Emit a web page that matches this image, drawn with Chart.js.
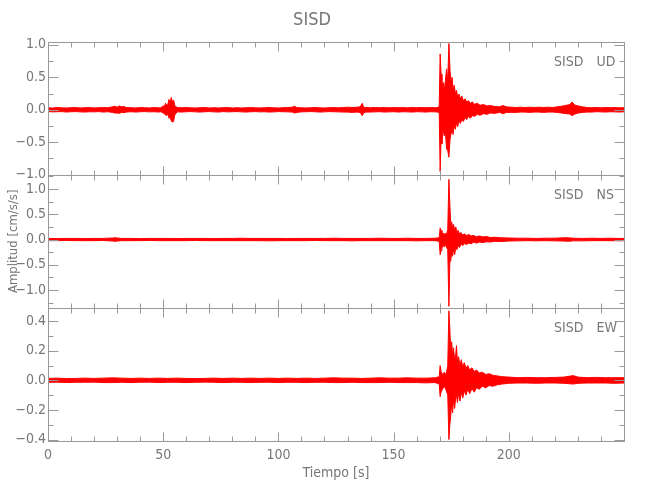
<!DOCTYPE html>
<html>
<head>
<meta charset="utf-8">
<script src="https://cdn.jsdelivr.net/npm/chart.js@4.4.1/dist/chart.umd.min.js"></script>
<style>
  html, body { margin: 0; padding: 0; background: #fff; }
  canvas { display: block; }
</style>
</head>
<body>
<canvas id="sismo" width="650" height="500"></canvas>
<script>
// Envelope of each trace: [tiempo (s), max, min]
const udTraza = [
  [0,0.032,-0.028],[2,0.028,-0.032],[4,0.035,-0.03],[6,0.03,-0.028],[8,0.028,-0.035],[10,0.032,-0.03],
  [12,0.035,-0.028],[14,0.028,-0.032],[16,0.032,-0.035],[18,0.035,-0.03],[20,0.028,-0.032],[22,0.032,-0.028],
  [24,0.035,-0.035],[26,0.032,-0.03],[28,0.045,-0.04],[29,0.055,-0.05],[30,0.04,-0.05],[31,0.06,-0.055],
  [32,0.045,-0.04],[33,0.05,-0.045],[34,0.035,-0.035],[36,0.032,-0.03],[38,0.028,-0.035],[40,0.035,-0.03],
  [42,0.032,-0.028],[44,0.028,-0.032],[46,0.035,-0.03],[48,0.03,-0.035],[49,0.032,-0.03],[50,0.06,-0.05],
  [50.5,0.05,-0.06],[51,0.1,-0.08],[51.5,0.07,-0.09],[52,0.08,-0.06],[52.5,0.16,-0.13],[53,0.1,-0.12],
  [53.5,0.19,-0.17],[54,0.12,-0.19],[54.5,0.15,-0.18],[55,0.07,-0.08],[55.5,0.05,-0.06],[56,0.035,-0.032],
  [58,0.032,-0.035],[60,0.035,-0.03],[62,0.03,-0.028],[64,0.028,-0.032],[66,0.032,-0.035],[68,0.035,-0.03],
  [70,0.028,-0.028],[72,0.032,-0.032],[74,0.028,-0.035],[76,0.032,-0.028],[78,0.035,-0.032],[80,0.028,-0.03],
  [82,0.032,-0.028],[84,0.028,-0.032],[86,0.032,-0.035],[88,0.035,-0.03],[90,0.03,-0.028],[92,0.028,-0.032],
  [94,0.032,-0.03],[96,0.035,-0.035],[98,0.03,-0.032],[100,0.028,-0.028],[102,0.032,-0.03],[104,0.035,-0.032],
  [106,0.04,-0.035],[107,0.055,-0.05],[108,0.035,-0.04],[110,0.03,-0.032],[112,0.028,-0.03],[114,0.032,-0.028],
  [116,0.035,-0.03],[118,0.03,-0.035],[120,0.028,-0.032],[122,0.032,-0.028],[124,0.035,-0.03],[126,0.03,-0.032],
  [128,0.035,-0.035],[130,0.04,-0.035],[132,0.035,-0.04],[134,0.04,-0.035],[135.5,0.045,-0.04],[136.4,0.1,-0.09],
  [137,0.04,-0.045],[138,0.035,-0.035],[140,0.032,-0.035],[142,0.035,-0.032],[144,0.032,-0.03],[146,0.035,-0.035],
  [148,0.03,-0.032],[150,0.035,-0.03],[152,0.032,-0.035],[154,0.035,-0.03],[156,0.03,-0.032],[158,0.035,-0.035],
  [160,0.032,-0.03],[162,0.035,-0.032],[164,0.032,-0.035],[166,0.035,-0.03],[168,0.032,-0.032],[169,0.035,-0.035],
  [169.8,0.05,-0.05],[170.2,0.86,-0.95],[170.6,0.55,-0.47],[171,0.35,-0.52],[171.5,0.42,-0.3],[172,0.3,-0.4],
  [172.5,0.46,-0.35],[173,0.63,-0.6],[173.5,0.45,-0.63],[174,1.02,-0.73],[174.5,0.6,-0.45],[175,0.42,-0.36],
  [175.4,0.5,-0.3],[175.8,0.3,-0.38],[176.3,0.38,-0.25],[176.8,0.25,-0.3],[177.3,0.3,-0.2],[177.8,0.2,-0.26],
  [178.4,0.24,-0.17],[179,0.17,-0.21],[179.6,0.21,-0.15],[180.3,0.14,-0.18],[181,0.17,-0.12],[181.7,0.12,-0.15],
  [182.5,0.14,-0.1],[183.3,0.1,-0.13],[184.2,0.12,-0.09],[185.2,0.085,-0.1],[186.3,0.1,-0.07],[187.5,0.07,-0.085],
  [189,0.08,-0.06],[190.5,0.06,-0.07],[192,0.065,-0.05],[194,0.05,-0.055],[196,0.045,-0.04],[197.5,0.065,-0.06],
  [199,0.045,-0.04],[201,0.04,-0.04],[203,0.035,-0.04],[205,0.04,-0.035],[207,0.035,-0.035],[209,0.04,-0.04],
  [211,0.035,-0.035],[213,0.04,-0.035],[215,0.035,-0.04],[217,0.04,-0.035],[219,0.035,-0.035],[221,0.045,-0.04],
  [223,0.055,-0.05],[225,0.07,-0.06],[226.5,0.08,-0.065],[227.5,0.12,-0.09],[228.5,0.075,-0.07],[230,0.06,-0.05],
  [232,0.045,-0.04],[234,0.035,-0.035],[236,0.032,-0.035],[238,0.035,-0.03],[240,0.03,-0.032],[242,0.035,-0.035],
  [244,0.032,-0.03],[246,0.035,-0.032],[248,0.03,-0.035],[250,0.032,-0.03]
];

const nsTraza = [
  [0,0.022,-0.022],[4,0.018,-0.022],[8,0.022,-0.018],[12,0.022,-0.022],[16,0.018,-0.022],[20,0.022,-0.022],
  [24,0.022,-0.018],[28,0.03,-0.03],[29,0.035,-0.035],[30,0.03,-0.03],[32,0.022,-0.022],[36,0.022,-0.022],
  [40,0.018,-0.022],[44,0.022,-0.018],[48,0.022,-0.022],[52,0.022,-0.022],[56,0.018,-0.022],[60,0.022,-0.022],
  [64,0.022,-0.018],[68,0.022,-0.022],[72,0.018,-0.022],[76,0.022,-0.022],[80,0.022,-0.022],[84,0.026,-0.022],
  [88,0.022,-0.022],[92,0.022,-0.022],[96,0.022,-0.026],[100,0.022,-0.022],[104,0.018,-0.022],[108,0.022,-0.022],
  [112,0.022,-0.022],[116,0.022,-0.018],[120,0.022,-0.022],[124,0.026,-0.022],[128,0.022,-0.022],[132,0.022,-0.026],
  [136,0.022,-0.022],[140,0.022,-0.022],[144,0.026,-0.022],[148,0.022,-0.022],[152,0.022,-0.022],[156,0.026,-0.022],
  [160,0.022,-0.026],[164,0.022,-0.022],[168,0.026,-0.022],[169.8,0.035,-0.035],[170.2,0.23,-0.3],[170.6,0.18,-0.22],
  [171,0.1,-0.17],[171.5,0.13,-0.1],[172,0.09,-0.15],[172.5,0.13,-0.1],[173,0.1,-0.16],[173.5,0.2,-0.2],
  [174,1.19,-1.32],[174.4,0.7,-0.45],[174.8,0.3,-0.42],[175.2,0.35,-0.25],[175.6,0.22,-0.33],[176,0.3,-0.2],
  [176.5,0.18,-0.3],[177,0.25,-0.15],[177.5,0.14,-0.2],[178,0.18,-0.12],[178.6,0.11,-0.16],[179.2,0.14,-0.09],
  [180,0.09,-0.12],[180.8,0.11,-0.08],[181.7,0.08,-0.1],[182.6,0.1,-0.07],[183.6,0.07,-0.085],[184.7,0.08,-0.055],
  [186,0.055,-0.07],[187.3,0.07,-0.05],[188.8,0.05,-0.06],[190.3,0.06,-0.045],[192,0.04,-0.05],[194,0.045,-0.035],
  [196.5,0.035,-0.04],[200,0.03,-0.03],[204,0.026,-0.026],[208,0.026,-0.022],[212,0.022,-0.026],[216,0.026,-0.022],
  [220,0.026,-0.026],[224,0.035,-0.03],[226,0.035,-0.035],[228,0.026,-0.026],[232,0.022,-0.026],[236,0.026,-0.022],
  [240,0.022,-0.022],[244,0.026,-0.022],[248,0.022,-0.026],[250,0.022,-0.022]
];

const ewTraza = [
  [0,0.013,-0.013],[4,0.015,-0.012],[8,0.012,-0.015],[12,0.013,-0.013],[16,0.015,-0.013],[20,0.013,-0.012],
  [24,0.015,-0.015],[28,0.017,-0.015],[32,0.015,-0.013],[36,0.013,-0.015],[40,0.015,-0.013],[44,0.013,-0.012],
  [48,0.015,-0.015],[52,0.013,-0.013],[56,0.015,-0.013],[60,0.013,-0.015],[64,0.012,-0.013],[68,0.013,-0.012],
  [72,0.015,-0.013],[76,0.013,-0.015],[80,0.015,-0.013],[84,0.013,-0.013],[88,0.015,-0.015],[92,0.013,-0.013],
  [96,0.015,-0.013],[100,0.013,-0.015],[104,0.015,-0.013],[108,0.013,-0.013],[112,0.015,-0.015],[116,0.013,-0.013],
  [120,0.015,-0.013],[124,0.017,-0.015],[128,0.015,-0.015],[132,0.015,-0.013],[136,0.013,-0.015],[140,0.015,-0.015],
  [144,0.017,-0.015],[148,0.015,-0.013],[152,0.015,-0.015],[156,0.017,-0.015],[160,0.015,-0.015],[164,0.015,-0.017],
  [168,0.017,-0.015],[169.8,0.025,-0.025],[170.2,0.1,-0.11],[170.6,0.06,-0.08],[171.2,0.04,-0.06],[172,0.055,-0.04],
  [172.8,0.04,-0.065],[173.5,0.1,-0.1],[174,0.47,-0.4],[174.4,0.35,-0.3],[174.8,0.2,-0.24],[175.2,0.26,-0.15],
  [175.6,0.17,-0.22],[176,0.22,-0.13],[176.5,0.13,-0.19],[177,0.18,-0.11],[177.3,0.235,-0.1],[177.7,0.12,-0.15],
  [178.2,0.16,-0.09],[178.8,0.1,-0.14],[179.4,0.14,-0.08],[180,0.09,-0.12],[180.7,0.12,-0.07],[181.4,0.08,-0.1],
  [182.2,0.1,-0.06],[183,0.07,-0.09],[184,0.085,-0.055],[185,0.06,-0.08],[186,0.07,-0.05],[187.2,0.05,-0.06],
  [188.5,0.055,-0.04],[190,0.04,-0.05],[191.5,0.045,-0.035],[193,0.035,-0.04],[195,0.03,-0.03],[197,0.025,-0.025],
  [200,0.022,-0.02],[204,0.018,-0.018],[208,0.02,-0.018],[212,0.018,-0.02],[216,0.018,-0.018],[220,0.02,-0.018],
  [224,0.022,-0.02],[228,0.032,-0.025],[230,0.022,-0.02],[234,0.018,-0.018],[238,0.02,-0.018],[242,0.018,-0.018],
  [246,0.018,-0.02],[250,0.018,-0.018]
];

// tick values
const etiquetasX = [0, 50, 100, 150, 200];
const marcasX = [0,10,20,30,40,50,60,70,80,90,100,110,120,130,140,150,160,170,180,190,200,210,220,230,240,250];
const ticksUD = [-1, -0.5, 0, 0.5, 1];
const menorUD = [-1, -0.75, -0.5, -0.25, 0, 0.25, 0.5, 0.75, 1];
const ticksNS = [-1, -0.5, 0, 0.5, 1];
const menorNS = [-1.25, -1, -0.75, -0.5, -0.25, 0, 0.25, 0.5, 0.75, 1, 1.25];
const ticksEW = [-0.4, -0.2, 0, 0.2, 0.4];
const menorEW = [-0.4, -0.3, -0.2, -0.1, 0, 0.1, 0.2, 0.3, 0.4];

const estacion = 'SISD';
const rojo = '#ff0000';
const grisTexto = '#777777';
const grisMarco = '#999999';
const fuente = "'Liberation Sans Narrow', 'DejaVu Sans Condensed', 'Liberation Sans', sans-serif";

const paneles = [
  { id: 'yUD', comp: 'UD', traza: udTraza, mayor: ticksUD, menor: menorUD, min: -1.0, max: 1.05 },
  { id: 'yNS', comp: 'NS', traza: nsTraza, mayor: ticksNS, menor: menorNS, min: -1.35, max: 1.28 },
  { id: 'yEW', comp: 'EW', traza: ewTraza, mayor: ticksEW, menor: menorEW, min: -0.41, max: 0.49 }
];

function formato(v) {
  return Number(v).toFixed(1).replace('-', '\u2212');
}

// upper envelope fills down to the lower one
const datasets = [];
paneles.forEach(p => {
  datasets.push({
    data: p.traza.map(r => ({ x: r[0], y: r[1] })),
    yAxisID: p.id, borderColor: rojo, backgroundColor: rojo,
    borderWidth: 1, pointRadius: 0, tension: 0, fill: '+1'
  });
  datasets.push({
    data: p.traza.map(r => ({ x: r[0], y: r[2] })),
    yAxisID: p.id, borderColor: rojo, backgroundColor: rojo,
    borderWidth: 1, pointRadius: 0, tension: 0, fill: false
  });
});

function ejeY(p, titulo) {
  return {
    type: 'linear', position: 'left', stack: 'sisd', stackWeight: 1,
    min: p.min, max: p.max,
    grid: { display: false, drawTicks: false },
    border: { display: false },
    afterBuildTicks: s => { s.ticks = p.mayor.map(v => ({ value: v })); },
    afterFit: s => { s.width = 48; },
    ticks: { color: grisTexto, font: { family: fuente, size: 14 }, padding: 2, callback: v => formato(v) },
    title: titulo
      ? { display: true, text: titulo, color: grisTexto, font: { family: fuente, size: 13 }, padding: { top: 6, bottom: 0 } }
      : { display: false }
  };
}

// frames, inward tick marks and station labels, IDL style
const marcosPlugin = {
  id: 'marcos',
  afterDraw(chart) {
    const ctx = chart.ctx;
    const x = chart.scales.x;
    const l = Math.round(chart.chartArea.left) + 0.5;
    const r = Math.round(chart.chartArea.right) + 0.5;
    const raya = (x1, y1, x2, y2) => { ctx.beginPath(); ctx.moveTo(x1, y1); ctx.lineTo(x2, y2); ctx.stroke(); };
    ctx.save();
    ctx.strokeStyle = grisMarco;
    ctx.lineWidth = 1;
    paneles.forEach(p => {
      const s = chart.scales[p.id];
      const arriba = Math.round(s.top) + 0.5;
      const abajo = Math.round(s.bottom) + 0.5;
      ctx.strokeRect(l, arriba, r - l, abajo - arriba);
      marcasX.forEach(v => {
        const px = Math.round(x.getPixelForValue(v)) + 0.5;
        const largo = etiquetasX.includes(v) ? 9 : 5;
        raya(px, arriba, px, arriba + largo);
        raya(px, abajo, px, abajo - largo);
      });
      p.menor.forEach(v => {
        const py = Math.round(s.getPixelForValue(v)) + 0.5;
        const largo = p.mayor.includes(v) ? 10 : 5;
        raya(l, py, l + largo, py);
        raya(r, py, r - largo, py);
      });
      ctx.fillStyle = grisTexto;
      ctx.font = '14px ' + fuente;
      ctx.textBaseline = 'middle';
      ctx.textAlign = 'right';
      ctx.fillText(estacion, r - 41, arriba + 20);
      ctx.textAlign = 'left';
      ctx.fillText(p.comp, r - 28, arriba + 20);
    });
    ctx.restore();
  }
};

new Chart(document.getElementById('sismo').getContext('2d'), {
  type: 'line',
  data: { datasets: datasets },
  options: {
    responsive: false,
    animation: false,
    layout: { padding: { left: 0, right: 26, top: 0, bottom: 0 } },
    plugins: {
      legend: { display: false },
      tooltip: { enabled: false },
      title: {
        display: true, text: estacion, color: grisTexto,
        font: { family: fuente, size: 18, weight: 'normal' },
        padding: { top: 10, bottom: 10 }
      }
    },
    scales: {
      x: {
        type: 'linear', min: 0, max: 250,
        grid: { display: false, drawTicks: false },
        border: { display: false },
        afterBuildTicks: s => { s.ticks = etiquetasX.map(v => ({ value: v })); },
        afterFit: s => { s.height = 59; },
        ticks: { color: grisTexto, font: { family: fuente, size: 14 }, padding: 6, maxRotation: 0, autoSkip: false },
        title: {
          display: true, text: 'Tiempo [s]', color: grisTexto,
          font: { family: fuente, size: 14 }, padding: { top: 0, bottom: 18 }
        }
      },
      // stacked scales are laid out bottom first
      yEW: ejeY(paneles[2]),
      yNS: ejeY(paneles[1], 'Amplitud [cm/s/s]'),
      yUD: ejeY(paneles[0])
    }
  },
  plugins: [marcosPlugin]
});
</script>
</body>
</html>
